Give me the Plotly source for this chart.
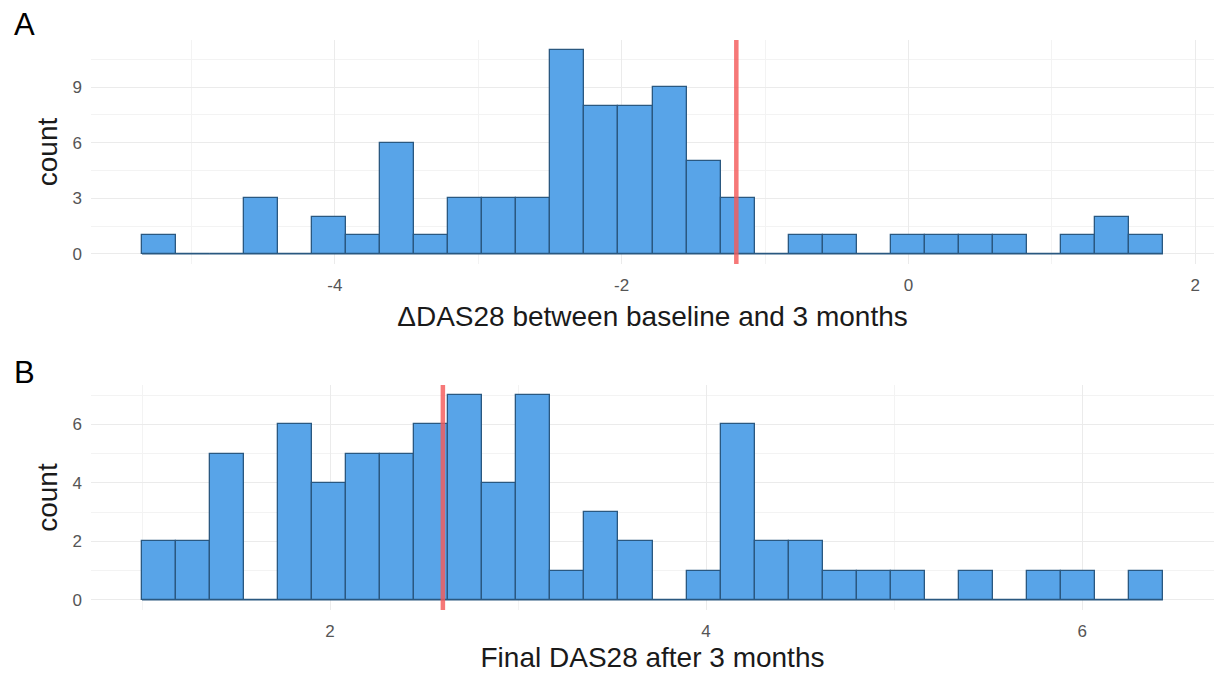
import plotly.graph_objects as go
from plotly.subplots import make_subplots

# ---- Data ----
counts_a = [1, 0, 0, 3, 0, 2, 1, 6, 1, 3, 3, 3, 11, 8, 8, 9, 5, 3, 0, 1, 1, 0, 1, 1, 1, 1, 0, 1, 2, 1]
bin_start_a = -5.344
bin_width_a = 0.2373
vline_a = -1.2

counts_b = [2, 2, 5, 0, 6, 4, 5, 5, 6, 7, 4, 7, 1, 3, 2, 0, 1, 6, 2, 2, 1, 1, 1, 0, 1, 0, 1, 1, 0, 1]
bin_start_b = 1.0
bin_width_b = 0.181
vline_b = 2.60

xticks_a = [-4, -2, 0, 2]
xminor_a = [-5, -3, -1, 1]
yticks_a = [0, 3, 6, 9]
yminor_a = [1.5, 4.5, 7.5, 10.5]
xticks_b = [2, 4, 6]
xminor_b = [1, 3, 5]
yticks_b = [0, 2, 4, 6]
yminor_b = [1, 3, 5, 7]

xtitle_a = "ΔDAS28 between baseline and 3 months"
xtitle_b = "Final DAS28 after 3 months"
ytitle = "count"
panel_labels = ["A", "B"]

FONT = "Liberation Sans, Arial, sans-serif"
FILL = "#58A4E8"
EDGE = "#2A5880"
RED = "rgba(244,90,90,0.82)"
GRID = "#EBEBEB"
GRID_MINOR = "#F3F3F3"

fig = make_subplots(rows=2, cols=1, vertical_spacing=0.0)


def add_hist(counts, start, width, row):
    n = len(counts)
    centers = [start + width * (i + 0.5) for i in range(n)]
    fig.add_trace(go.Bar(x=centers, y=counts, width=[width] * n,
                         marker=dict(color=FILL, line=dict(color=EDGE, width=1.3)),
                         showlegend=False), row=row, col=1)
    lo, hi = start, start + width * n
    # flat outline along the baseline (zero-count bins)
    fig.add_trace(go.Scatter(x=[lo, hi], y=[0, 0], mode="lines",
                             line=dict(color=EDGE, width=1.3), showlegend=False,
                             hoverinfo="skip"), row=row, col=1)
    pad = (hi - lo) * 0.05
    return lo - pad, hi + pad


xr_a = add_hist(counts_a, bin_start_a, bin_width_a, 1)
xr_b = add_hist(counts_b, bin_start_b, bin_width_b, 2)

ymax_a = max(counts_a)
ymax_b = max(counts_b)

fig.add_vline(x=vline_a, line=dict(color=RED, width=4.5), row=1, col=1)
fig.add_vline(x=vline_b, line=dict(color=RED, width=4.5), row=2, col=1)

axis_common = dict(showline=False, zeroline=False, ticks="", gridcolor=GRID, gridwidth=1.3,
                   automargin=False,
                   tickfont=dict(family=FONT, size=17, color="#555555"),
                   title_font=dict(family=FONT, size=28, color="#1A1A1A"))

fig.update_xaxes(**axis_common)
fig.update_yaxes(**axis_common)


def labels(vals):
    return [str(v) for v in vals]  # plain hyphen minus, as in the reference


fig.update_xaxes(range=list(xr_a), tickvals=xticks_a, ticktext=labels(xticks_a), ticklabelstandoff=9,
                 minor=dict(showgrid=True, gridcolor=GRID_MINOR, tickvals=xminor_a, gridwidth=1),
                 title_text=xtitle_a, title_standoff=12, row=1, col=1)
fig.update_xaxes(range=list(xr_b), tickvals=xticks_b, ticktext=labels(xticks_b), ticklabelstandoff=9,
                 minor=dict(showgrid=True, gridcolor=GRID_MINOR, tickvals=xminor_b, gridwidth=1),
                 title_text=xtitle_b, title_standoff=9, row=2, col=1)
fig.update_yaxes(range=[-0.05 * ymax_a, ymax_a * 1.05], tickvals=yticks_a, ticklabelstandoff=8,
                 minor=dict(showgrid=True, gridcolor=GRID_MINOR, tickvals=yminor_a, gridwidth=1),
                 title_text=ytitle, title_standoff=6, domain=[0.607, 1.0], row=1, col=1)
fig.update_yaxes(range=[-0.05 * ymax_b, ymax_b * 1.05], tickvals=yticks_b, ticklabelstandoff=8,
                 minor=dict(showgrid=True, gridcolor=GRID_MINOR, tickvals=yminor_b, gridwidth=1),
                 title_text=ytitle, title_standoff=6, domain=[0.0, 0.3947], row=2, col=1)

for lab, ypos in zip(panel_labels, [1.028, 0.4175]):
    fig.add_annotation(text=lab, xref="paper", yref="paper", x=-0.0588, y=ypos, showarrow=False,
                       xanchor="center", yanchor="middle",
                       font=dict(family=FONT, size=31, color="#000"))

fig.update_layout(width=1216, height=673, margin=dict(l=91, r=2, t=40, b=63),
                  plot_bgcolor="white", paper_bgcolor="white", bargap=0,
                  font=dict(family=FONT))

fig.write_html("out.html")
